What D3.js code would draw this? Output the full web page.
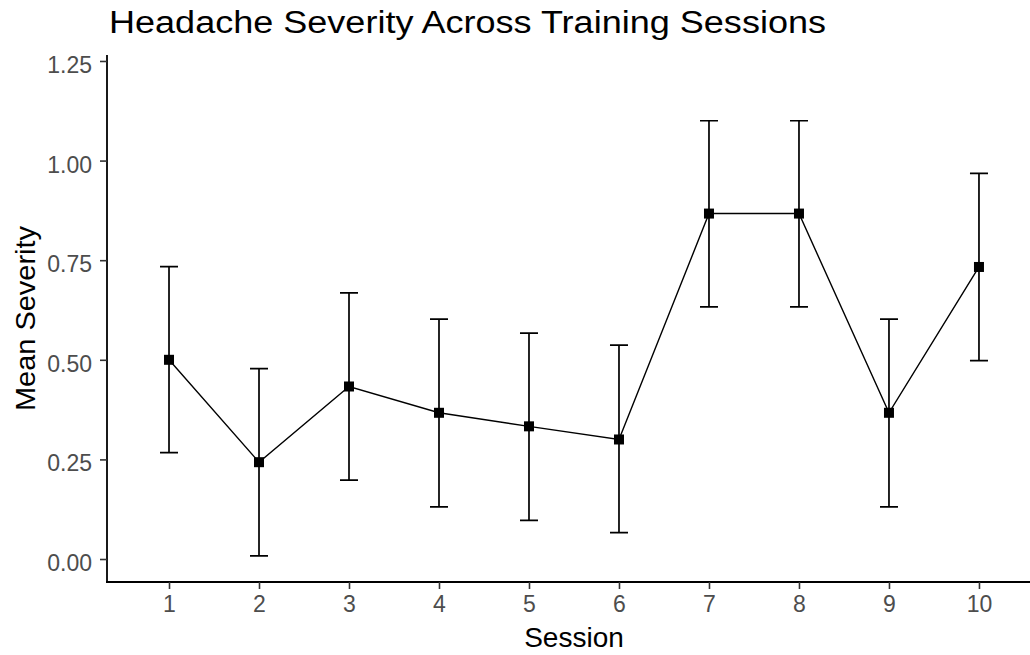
<!DOCTYPE html>
<html>
<head>
<meta charset="utf-8">
<script src="https://cdn.jsdelivr.net/npm/d3@7"></script>
<style>
  body { margin: 0; background: #fff; }
  text { font-family: "Liberation Sans", Arial, sans-serif; }
</style>
</head>
<body>
<script>
var sessions = [1, 2, 3, 4, 5, 6, 7, 8, 9, 10];
var meanSeverity = [0.500, 0.243, 0.433, 0.367, 0.333, 0.300, 0.867, 0.867, 0.367, 0.733];
var lowerCI = [0.267, 0.008, 0.198, 0.131, 0.097, 0.066, 0.633, 0.633, 0.131, 0.498];
var upperCI = [0.734, 0.478, 0.668, 0.602, 0.567, 0.537, 1.100, 1.100, 0.602, 0.968];
var yTicks = [0, 0.25, 0.5, 0.75, 1, 1.25];

var initialize = function(){
  var screen = {
    width: 1030,
    height: 655
  }
  var panel = {
    left: 107,
    right: 1030,
    top: 55,
    bottom: 582
  }
  var svg = d3.select('body')
              .append('svg')
              .attr('width', screen.width)
              .attr('height', screen.height);

  var xScale = d3.scaleLinear()
                 .domain([0.311, 10.567])
                 .range([panel.left, panel.right]);
  var yScale = d3.scaleLinear()
                 .domain([-0.0577, 1.265])
                 .range([panel.bottom, panel.top]);

  var data = sessions.map(function(s, i){
    return { x: s, y: meanSeverity[i], lo: lowerCI[i], hi: upperCI[i] };
  });

  // ERROR BARS //
  var capHalf = 0.1;
  var bars = svg.append('g')
                .attr('stroke', '#000')
                .attr('stroke-width', 1.7)
                .attr('fill', 'none');
  bars.selectAll('path')
      .data(data)
      .enter()
      .append('path')
      .attr('d', function(d){
        var x0 = xScale(d.x - capHalf), x1 = xScale(d.x + capHalf), xc = xScale(d.x);
        return 'M' + x0 + ',' + yScale(d.hi) + 'H' + x1 +
               'M' + xc + ',' + yScale(d.hi) + 'V' + yScale(d.lo) +
               'M' + x0 + ',' + yScale(d.lo) + 'H' + x1;
      });

  // LINE //
  var drawLine = d3.line()
                   .x(function(d){ return xScale(d.x); })
                   .y(function(d){ return yScale(d.y); });
  svg.append('path')
     .datum(data)
     .attr('d', drawLine)
     .attr('stroke', '#000')
     .attr('stroke-width', 1.4)
     .attr('fill', 'none');

  // POINTS //
  var size = 10;
  svg.append('g')
     .selectAll('rect')
     .data(data)
     .enter()
     .append('rect')
     .attr('x', function(d){ return xScale(d.x) - size / 2; })
     .attr('y', function(d){ return yScale(d.y) - size / 2; })
     .attr('width', size)
     .attr('height', size)
     .attr('fill', '#000');

  // AXES //
  var xAxis = d3.axisBottom(xScale)
                .tickValues(sessions)
                .tickSize(7)
                .tickPadding(6)
                .tickFormat(d3.format('d'));
  var yAxis = d3.axisLeft(yScale)
                .tickValues(yTicks)
                .tickSize(7)
                .tickPadding(8)
                .tickFormat(d3.format('.2f'));

  var gx = svg.append('g')
     .attr('transform', 'translate(0,' + panel.bottom + ')')
     .call(xAxis);
  var gy = svg.append('g')
     .attr('transform', 'translate(' + panel.left + ',0)')
     .call(yAxis);

  [gx, gy].forEach(function(g){
    g.select('.domain').attr('stroke', '#000').attr('stroke-width', 1.8);
    g.selectAll('.tick line').attr('stroke', '#333').attr('stroke-width', 1.6);
    g.selectAll('.tick text')
     .attr('fill', '#4d4d4d')
     .style('font-size', '23px')
     .style('font-family', '"Liberation Sans", Arial, sans-serif');
  });
  gy.select('.domain').attr('d', 'M0,' + panel.top + 'V' + (panel.bottom + 1));
  gx.select('.domain').attr('d', 'M' + (panel.left - 1) + ',0H' + panel.right);
  gy.selectAll('.tick text').attr('dy', '0.5em');
  gx.selectAll('.tick text').attr('dy', '0.72em');

  // TITLES //
  svg.append('text')
     .attr('x', 109)
     .attr('y', 33)
     .attr('textLength', 717)
     .attr('lengthAdjust', 'spacingAndGlyphs')
     .style('font-size', '31px')
     .attr('fill', '#000')
     .text('Headache Severity Across Training Sessions');

  svg.append('text')
     .attr('x', 574)
     .attr('y', 647)
     .attr('text-anchor', 'middle')
     .style('font-size', '28px')
     .attr('fill', '#000')
     .text('Session');

  svg.append('text')
     .attr('transform', 'translate(35,' + ((panel.top + panel.bottom) / 2) + ') rotate(-90)')
     .attr('text-anchor', 'middle')
     .attr('textLength', 185)
     .attr('lengthAdjust', 'spacingAndGlyphs')
     .style('font-size', '28px')
     .attr('fill', '#000')
     .text('Mean Severity');
}

initialize();
</script>
</body>
</html>
